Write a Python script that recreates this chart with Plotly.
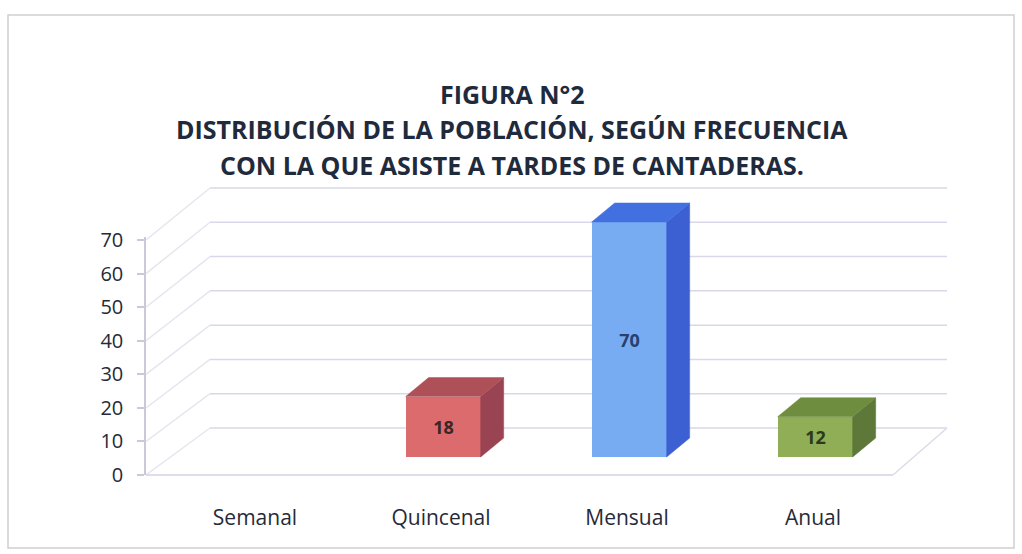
import plotly.graph_objects as go

# ---------------- data ----------------
categories = ["Semanal", "Quincenal", "Mensual", "Anual"]
values = [0, 18, 70, 12]
y_ticks = [0, 10, 20, 30, 40, 50, 60, 70]
title_lines = [
    "FIGURA N°2",
    "DISTRIBUCIÓN DE LA POBLACIÓN, SEGÚN FRECUENCIA",
    "CON LA QUE ASISTE A TARDES DE CANTADERAS.",
]

# ---------------- styles ----------------
front_colors = ["#e07070", "#dc6b6e", "#78acf2", "#8fae55"]
top_colors = ["#ad5058", "#ad5058", "#4270e0", "#6f8d3e"]
side_colors = ["#9a4352", "#9a4352", "#3c60d2", "#5d7838"]
label_colors = ["#3a2626", "#3a2626", "#27406e", "#2c3a1c"]
FONT = "Open Sans"
GRID = "#d8d8ea"
SIDE_GRID = "#e6e6ef"

W, H = 1022, 554
L, R = 146, 947          # plot area left/right px
T, B = 165, 485          # plot area top/bottom px
X0 = -0.586              # x value at left edge
PX_X = 186.0             # px per category
X1 = X0 + (R - L) / PX_X
S = 3.357                # px per unit (front plane)
S_BACK = 3.4286          # px per unit (back wall)
FRONT0 = 475             # px of value 0, front plane
BACK0 = 428              # px of value 0, back wall
BASE_PX = 457            # px of bar base (value 0 of bars)

def xv(px):
    return X0 + (px - L) / PX_X

def y2_of_px(py):
    return (BASE_PX - py) / S

def yf(v):
    return y2_of_px(FRONT0 - v * S)

def yb(v):
    return y2_of_px(BACK0 - v * S_BACK)

BAR_W = 75 / PX_X
BAR_OFF = -0.19
DX = 23 / PX_X
DY = 19 / S

fig = go.Figure()

# back wall gridlines + left side wall diagonals (shapes below traces)
for v in y_ticks:
    fig.add_shape(type="line", xref="x", yref="y2", x0=xv(L), x1=xv(210),
                  y0=yf(v), y1=yb(v), line=dict(color=SIDE_GRID, width=1.5), layer="below")
    fig.add_shape(type="line", xref="x", yref="y2", x0=xv(210), x1=xv(R),
                  y0=yb(v), y1=yb(v), line=dict(color=GRID, width=1.5), layer="below")
# floor front edge + right diagonal
fig.add_shape(type="line", xref="x", yref="y2", x0=xv(L), x1=xv(893), y0=yf(0), y1=yf(0),
              line=dict(color="#d3d3e3", width=1.5), layer="below")
fig.add_shape(type="line", xref="x", yref="y2", x0=xv(893), x1=xv(R), y0=yf(0), y1=yb(0),
              line=dict(color="#dcdce8", width=1.5), layer="below")

# dummy trace so the tick axis subplot is drawn
fig.add_trace(go.Scatter(x=[X0], y=[0], mode="markers", marker=dict(opacity=0),
                         yaxis="y", hoverinfo="skip", showlegend=False))

xs = list(range(len(categories)))

# front faces
fig.add_trace(go.Bar(
    x=xs, y=values, yaxis="y2", width=BAR_W, offset=BAR_OFF,
    marker=dict(color=front_colors, line=dict(width=0)),
    text=["<b>%d</b>" % v if v > 0 else "" for v in values],
    textposition="inside", insidetextanchor="middle", textangle=0,
    constraintext="none",
    textfont=dict(family=FONT, size=18, color=label_colors),
    hovertemplate="%{customdata}: %{y}<extra></extra>",
    customdata=categories, showlegend=False))

# bar side and top faces
for i, v in enumerate(values):
    if v <= 0:
        continue
    left = xs[i] + BAR_OFF
    right = left + BAR_W
    fig.add_trace(go.Scatter(
        x=[right, right, right + DX, right + DX, right],
        y=[0, v, v + DY, DY, 0],
        fill="toself", fillcolor=side_colors[i], mode="lines",
        line=dict(color=side_colors[i], width=0.5), yaxis="y2",
        hoverinfo="skip", showlegend=False))
    fig.add_trace(go.Scatter(
        x=[left, right, right + DX, left + DX, left],
        y=[v, v, v + DY, v + DY, v],
        fill="toself", fillcolor=top_colors[i], mode="lines",
        line=dict(color=top_colors[i], width=0.5), yaxis="y2",
        hoverinfo="skip", showlegend=False))

# title
for k, line in enumerate(title_lines):
    py = [94, 129, 165][k]
    fig.add_annotation(text="<b>" + line + "</b>", x=(512 - L) / (R - L),
                       y=(B - py) / (B - T), xref="paper", yref="paper",
                       showarrow=False, xanchor="center", yanchor="middle",
                       font=dict(family=FONT, size=25, color="#1f2b3d"))

# outer frame
fig.add_shape(type="rect", xref="paper", yref="paper",
              x0=(8 - L) / (R - L), x1=(1014 - L) / (R - L),
              y0=(B - 548) / (B - T), y1=(B - 15) / (B - T),
              line=dict(color="#cfcfcf", width=1.5), fillcolor="rgba(0,0,0,0)", layer="below")

top70 = FRONT0 - 70.9 * S
fig.update_layout(
    width=W, height=H, autosize=False,
    margin=dict(l=L, r=W - R, t=T, b=H - B, pad=0),
    paper_bgcolor="white", plot_bgcolor="rgba(0,0,0,0)",
    font=dict(family=FONT, color="#333333"),
    xaxis=dict(range=[X0, X1], anchor="y", tickvals=xs, ticktext=categories,
               showgrid=False, zeroline=False, showline=False, ticks="",
               ticklabelstandoff=28, tickfont=dict(family=FONT, size=21, color="#262a38")),
    yaxis=dict(domain=[(B - FRONT0) / (B - T), (B - top70) / (B - T)],
               range=[0, 70.9], anchor="x", tickvals=y_ticks,
               showgrid=False, zeroline=False, showline=True, linecolor="#c9c9d9", linewidth=1.5,
               ticks="outside", ticklen=7, tickcolor="#c9c9d9", tickwidth=1.5,
               ticklabelstandoff=10, tickfont=dict(family=FONT, size=20, color="#262a38")),
    yaxis2=dict(domain=[0, 1], range=[y2_of_px(B), y2_of_px(T)], anchor="x",
                visible=False, showgrid=False, zeroline=False),
    bargap=0,
)

fig.write_html("out.html", config={"displayModeBar": False},
               post_script="document.body.style.margin='0';")
